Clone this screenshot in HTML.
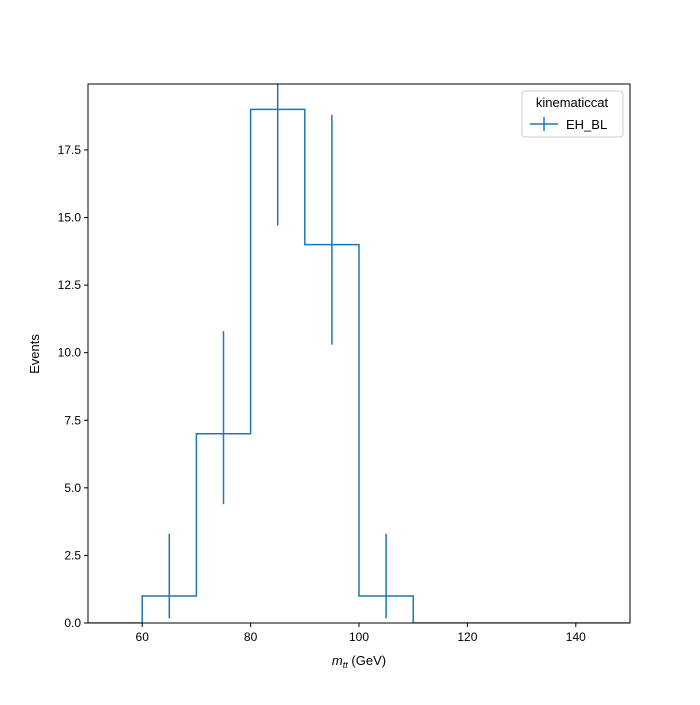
<!DOCTYPE html>
<html><head><meta charset="utf-8"><style>body{margin:0;background:#fff}svg{font-family:"Liberation Sans","DejaVu Sans",sans-serif}</style></head>
<body>
<svg id="c" width="700" height="700"></svg>
<script>
const binEdges=[50,60,70,80,90,100,110,120,130,140,150];
const counts=[0,1,7,19,14,1,0,0,0,0];
const errLo=[0,0.17,4.4,14.7,10.3,0.17,0,0,0,0];
const errHi=[0,3.3,10.8,23.0,18.8,3.3,0,0,0,0];
const xTicks=[60,80,100,120,140];
const yTicks=[0,2.5,5,7.5,10,12.5,15,17.5];
const L=88,R=630,T=84,B=623,xmin=50,xmax=150,ymax=19.94;
const X=v=>L+(v-xmin)/(xmax-xmin)*(R-L);
const Y=v=>B-v/ymax*(B-T);
const s=document.getElementById('c');const ns='http://www.w3.org/2000/svg';
function mk(t,a,p){const e=document.createElementNS(ns,t);for(const k in a)e.setAttribute(k,a[k]);(p||s).appendChild(e);return e;}
const clip=mk('clipPath',{id:'cp'});mk('rect',{x:L,y:T,width:R-L,height:B-T},clip);
let d='M'+X(binEdges[0])+','+Y(counts[0]);
for(let i=0;i<counts.length;i++){d+=' L'+X(binEdges[i])+','+Y(counts[i])+' L'+X(binEdges[i+1])+','+Y(counts[i]);}
const g=mk('g',{'clip-path':'url(#cp)'});
const h=mk('path',{d:d,fill:'none',stroke:'#1f77b4','stroke-width':1.5},g);

for(let i=0;i<counts.length;i++){if(counts[i]<=0)continue;const cx=X((binEdges[i]+binEdges[i+1])/2);
const e=mk('line',{x1:cx,x2:cx,y1:Y(errLo[i]),y2:Y(errHi[i]),stroke:'#1f77b4','stroke-width':1.5},g);
}
mk('rect',{x:L,y:T,width:R-L,height:B-T,fill:'none',stroke:'#000','stroke-width':1});
xTicks.forEach(v=>{const x=X(v);mk('line',{x1:x,x2:x,y1:B,y2:B+4,stroke:'#000'});
const t=mk('text',{x:x,y:B+18,'text-anchor':'middle','font-size':12});t.textContent=v;
});
yTicks.forEach(v=>{const y=Y(v);mk('line',{x1:L-4,x2:L,y1:y,y2:y,stroke:'#000'});
const t=mk('text',{x:L-7,y:y+4,'text-anchor':'end','font-size':12});t.textContent=v.toFixed(1);
});
</script>
<svg width="700" height="700" style="position:absolute;left:0;top:0">
<text x="359" y="665" text-anchor="middle" font-size="13"><tspan font-style="italic">m</tspan><tspan font-style="italic" font-size="9" dy="3">tt</tspan><tspan dy="-3"> (GeV)</tspan></text>
<text x="39" y="354" text-anchor="middle" font-size="13" transform="rotate(-90 39 354)">Events</text>
<g>
<rect x="522" y="91" width="101" height="46" rx="3" fill="#fff" stroke="#ccc"/>
<text x="572" y="107" text-anchor="middle" font-size="13">kinematiccat</text>
<line x1="530" x2="558" y1="124" y2="124" stroke="#1f77b4" stroke-width="1.5"/>
<line x1="544" x2="544" y1="117" y2="131" stroke="#1f77b4" stroke-width="1.5"/>
<text x="566" y="129" font-size="13">EH_BL</text>
</g>
</svg>
</body></html>
